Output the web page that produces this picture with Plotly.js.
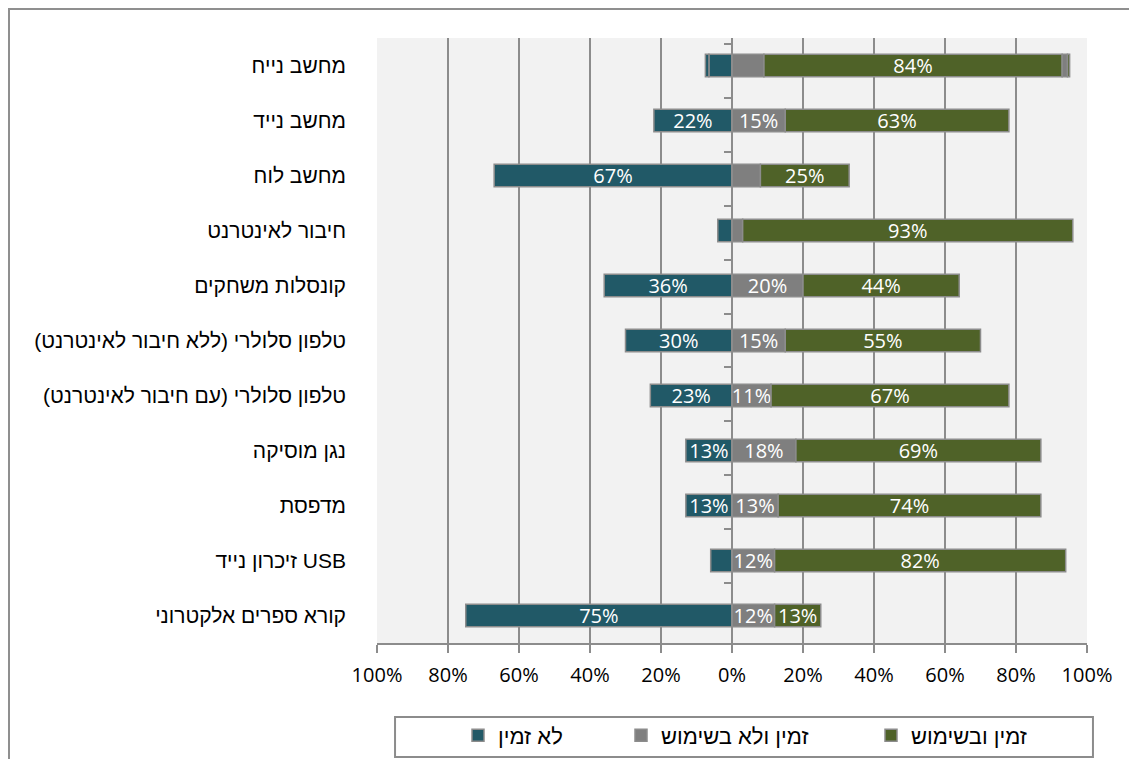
<!DOCTYPE html>
<html>
<head>
<meta charset="utf-8">
<script src="https://cdn.plot.ly/plotly-3.0.1.min.js"></script>
<style>
  html, body { margin: 0; padding: 0; background: #ffffff; overflow: hidden; }
  #frame { position: absolute; left: 8px; top: 8px; width: 1300px; height: 900px;
           border: 2px solid #8f8f8f; box-sizing: border-box; }
  #chart { position: absolute; left: 0; top: 0; width: 1129px; height: 759px; }
</style>
</head>
<body>
<div id="frame"></div>
<div id="chart"></div>
<script>
// ---- data (percent) ----
const categories = [
  "מחשב נייח",
  "מחשב נייד",
  "מחשב לוח",
  "חיבור לאינטרנט",
  "קונסלות משחקים",
  "טלפון סלולרי (ללא חיבור לאינטרנט)",
  "טלפון סלולרי (עם חיבור לאינטרנט)",
  "נגן מוסיקה",
  "מדפסת",
  "זיכרון נייד USB",
  "קורא ספרים אלקטרוני"
];
const notAvailable      = [6.5, 22, 67, 4, 36, 30, 23, 13, 13, 6, 75];   // לא זמין
const availableNotUsed  = [9, 15, 8, 3, 20, 15, 11, 18, 13, 12, 12];     // זמין ולא בשימוש
const availableUsed     = [84, 63, 25, 93, 44, 55, 67, 69, 74, 82, 13];  // זמין ובשימוש
// small extra slivers visible on the first row of the original
const notAvailableExtra = [1, null, null, null, null, null, null, null, null, null, null];
const notUsedExtra      = [1.5, null, null, null, null, null, null, null, null, null, null];
const usedExtra         = [0.6, null, null, null, null, null, null, null, null, null, null];
const labelNotAvailable = [null, "22%", "67%", null, "36%", "30%", "23%", "13%", "13%", null, "75%"];
const labelNotUsed      = [null, "15%", null, null, "20%", "15%", "11%", "18%", "13%", "12%", "12%"];
const labelUsed         = ["84%", "63%", "25%", "93%", "44%", "55%", "67%", "69%", "74%", "82%", "13%"];
const seriesNames = ["לא זמין", "זמין ולא בשימוש", "זמין ובשימוש"];
const tickVals  = [-100, -80, -60, -40, -20, 0, 20, 40, 60, 80, 100];
const tickTexts = ["100%", "80%", "60%", "40%", "20%", "0%", "20%", "40%", "60%", "80%", "100%"];

const colBlue = "#215967", colGrey = "#7f7f7f", colGreen = "#4f6228";
const edge = { color: "#8c8c8c", width: 1.5 };
const labelFont = { family: "Open Sans, sans-serif", size: 20, color: "#ffffff" };

function barTrace(vals, name, color, labels, legendId, negative) {
  return {
    type: "bar", orientation: "h", name: name,
    y: categories,
    x: vals.map(v => v === null ? null : (negative ? -v : v)),
    marker: { color: color, line: edge },
    text: labels || undefined,
    textposition: labels ? "inside" : "none",
    insidetextanchor: "middle",
    textangle: 0,
    insidetextfont: labelFont,
    showlegend: !!legendId,
    legend: legendId || "legend",
    hoverinfo: "skip"
  };
}

const traces = [
  barTrace(notAvailable, seriesNames[0], colBlue, labelNotAvailable, "legend", true),
  barTrace(notAvailableExtra, "x1", colBlue, null, null, true),
  barTrace(availableNotUsed, seriesNames[1], colGrey, labelNotUsed, "legend2", false),
  barTrace(availableUsed, seriesNames[2], colGreen, labelUsed, "legend3", false),
  barTrace(notUsedExtra, "x2", colGrey, null, null, false),
  barTrace(usedExtra, "x3", colGreen, null, null, false),
  { type: "scatter", mode: "markers", y: categories, x: categories.map(() => 0),
    yaxis: "y2", marker: { opacity: 0, size: 1 }, showlegend: false, hoverinfo: "skip" }
];

const legendFont = { family: "Liberation Sans, Arial, sans-serif", size: 22, color: "#000000" };
function legendAt(xc) {
  return {
    orientation: "h", xref: "container", yref: "container",
    x: xc, xanchor: "left", y: 0.031, yanchor: "middle",
    bgcolor: "rgba(0,0,0,0)", borderwidth: 0, font: legendFont
  };
}

const layout = {
  width: 1129, height: 759,
  margin: { l: 377, r: 42, t: 38, b: 116 },
  paper_bgcolor: "rgba(0,0,0,0)",
  plot_bgcolor: "#f2f2f2",
  barmode: "relative",
  bargap: 0.59,
  font: { family: "Liberation Sans, Arial, sans-serif", color: "#000000" },
  uniformtext: { mode: "show", minsize: 20 },
  xaxis: {
    range: [-100, 100],
    tickmode: "array", tickvals: tickVals, ticktext: tickTexts,
    tickfont: { family: "Open Sans, sans-serif", size: 20, color: "#000000" },
    ticks: "outside", ticklen: 8, tickwidth: 2, tickcolor: "#8c8c8c",
    ticklabelstandoff: 5,
    showgrid: true, gridcolor: "#8c8c8c", gridwidth: 2,
    zeroline: false,
    showline: true, linecolor: "#8c8c8c", linewidth: 2,
    fixedrange: true
  },
  yaxis: {
    type: "category",
    categoryorder: "array", categoryarray: categories,
    autorange: "reversed",
    tickfont: { family: "Liberation Sans, Arial, sans-serif", size: 21, color: "#000000" },
    ticks: "", ticklabelstandoff: 30,
    showgrid: false, showline: false, zeroline: false,
    fixedrange: true
  },
  yaxis2: {
    type: "category",
    categoryorder: "array", categoryarray: categories,
    autorange: "reversed",
    overlaying: "y", anchor: "free", position: 0.5, side: "left",
    tickson: "boundaries", ticks: "outside", ticklen: 7, tickwidth: 2, tickcolor: "#8c8c8c",
    showticklabels: false, showgrid: false, zeroline: false,
    showline: true, linecolor: "#8c8c8c", linewidth: 2,
    fixedrange: true
  },
  legend:  legendAt((477 - 19) / 1129),
  legend2: legendAt((640 - 19) / 1129),
  legend3: legendAt((890 - 19) / 1129),
  shapes: [
    { type: "rect", xref: "paper", yref: "paper", layer: "below",
      x0: 0.0254, x1: 1.0084, y0: -0.1223, y1: -0.1884,
      line: { color: "#8c8c8c", width: 2 }, fillcolor: "#ffffff" }
  ]
};

Plotly.newPlot("chart", traces, layout, { displayModeBar: false, staticPlot: true });
</script>
</body>
</html>
